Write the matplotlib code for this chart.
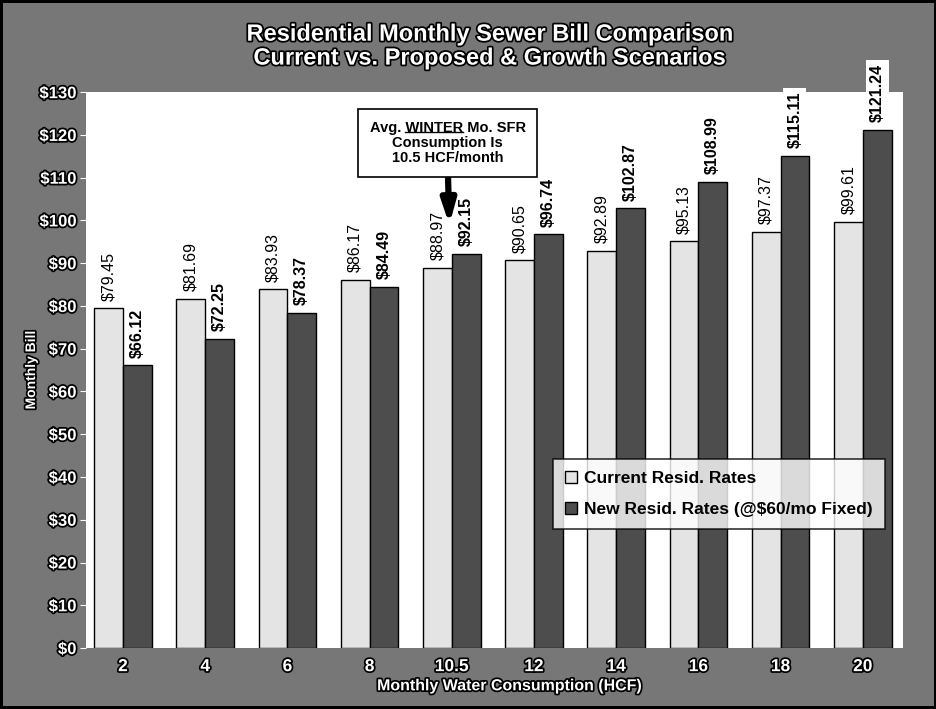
import matplotlib.pyplot as plt
import matplotlib.patheffects as pe
from matplotlib.lines import Line2D
from matplotlib.font_manager import FontProperties
import numpy as np

plt.rcParams['font.family'] = ['Liberation Sans', 'DejaVu Sans']

categories = ['2', '4', '6', '8', '10.5', '12', '14', '16', '18', '20']
current = [79.45, 81.69, 83.93, 86.17, 88.97, 90.65, 92.89, 95.13, 97.37, 99.61]
proposed = [66.12, 72.25, 78.37, 84.49, 92.15, 96.74, 102.87, 108.99, 115.11, 121.24]
y_ticks = list(range(0, 131, 10))

outline = [pe.withStroke(linewidth=2.5, foreground='black')]

fig = plt.figure(figsize=(9.37, 7.09), dpi=100, facecolor='#777777')
fig.patch.set_edgecolor('black')
fig.patch.set_linewidth(3)
ax = fig.add_axes([0.0918, 0.086, 0.872, 0.784])
ax.set_facecolor('white')

x = np.arange(len(categories))
w = 0.35
ax.bar(x - w / 2, current, w, color='#e4e4e4', edgecolor='black', linewidth=1,
       label='Current Resid. Rates')
ax.bar(x + w / 2, proposed, w, color='#4d4d4d', edgecolor='black', linewidth=1,
       label='New Resid. Rates (@$60/mo Fixed)')

for xi, v in zip(x, current):
    ax.annotate(f'${v:.2f}', (xi - w / 2, v), xytext=(0, 5.5), textcoords='offset points',
                rotation=90, ha='center', va='bottom', fontsize=11.5, color='black',
                annotation_clip=False)
for xi, v in zip(x, proposed):
    ax.annotate(f'${v:.2f}', (xi + w / 2, v), xytext=(0, 5.5), textcoords='offset points',
                rotation=90, ha='center', va='bottom', fontsize=11.5, fontweight='bold',
                color='black', annotation_clip=False,
                bbox=dict(boxstyle='square,pad=0.25', facecolor='white', edgecolor='none'))

ax.set_xlim(-0.45, 9.49)
ax.set_ylim(0, 130)
ax.set_yticks(y_ticks)
ax.set_yticklabels([f'${t}' for t in y_ticks])
ax.set_xticks(x)
ax.set_xticklabels(categories)
for lbl in ax.get_yticklabels() + ax.get_xticklabels():
    lbl.set_color('white')
    lbl.set_fontweight('bold')
    lbl.set_path_effects(outline)
for lbl in ax.get_yticklabels():
    lbl.set_fontsize(12)
for lbl in ax.get_xticklabels():
    lbl.set_fontsize(12.5)
ax.tick_params(axis='y', length=4, color='white', pad=3)
ax.tick_params(axis='x', length=0, pad=8)
for s in ax.spines.values():
    s.set_visible(False)

ax.set_xlabel('Monthly Water Consumption (HCF)', fontsize=11.5, fontweight='bold',
              color='white', path_effects=outline, labelpad=3)
ax.xaxis.label.set_x(0.519)
ax.set_ylabel('Monthly Bill', fontsize=10, fontweight='bold', color='white',
              path_effects=outline, labelpad=1)

fig.suptitle('Residential Monthly Sewer Bill Comparison\nCurrent vs. Proposed & Growth Scenarios',
             fontsize=17, fontweight='bold', color='white', y=0.968, x=0.523,
             linespacing=1.05, path_effects=outline)

line1 = 'Avg. WINTER Mo. SFR'
note = ax.annotate(line1 + '\nConsumption Is\n10.5 HCF/month',
                   xy=(3.97, 99), xytext=(3.95, 118.1), ha='center', va='center',
                   fontsize=10.5, fontweight='bold', linespacing=1.1,
                   bbox=dict(boxstyle='square,pad=0.8', facecolor='white', edgecolor='black',
                             linewidth=1.2),
                   arrowprops=dict(arrowstyle='-|>,head_width=0.4,head_length=1.3',
                                   color='black', linewidth=4.5, shrinkA=0, shrinkB=0,
                                   relpos=(0.5, 0.0)))

leg = ax.legend(loc='lower right', bbox_to_anchor=(0.988, 0.198), frameon=True, fancybox=False,
                edgecolor='black', prop={'weight': 'bold', 'size': 12.5}, handlelength=0.7,
                handleheight=0.7, handletextpad=0.4, labelspacing=0.9, borderpad=0.7)
leg.get_frame().set_linewidth(1.2)

# underline "WINTER" in the note
fig.canvas.draw()
r = fig.canvas.get_renderer()
fp = FontProperties(family=['Liberation Sans'], weight='bold', size=10.5)
bb = note.get_window_extent(r)
w_full = r.get_text_width_height_descent(line1, fp, ismath=False)[0]
w_pre = r.get_text_width_height_descent('Avg. ', fp, ismath=False)[0]
w_word, h_word, d_word = r.get_text_width_height_descent('WINTER', fp, ismath=False)
cx = (bb.x0 + bb.x1) / 2
x0 = cx - w_full / 2 + w_pre
y0 = bb.y1 - h_word - 1
inv = fig.transFigure.inverted()
(fx0, fy0), (fx1, _) = inv.transform([(x0, y0), (x0 + w_word, y0)])
fig.add_artist(Line2D([fx0, fx1], [fy0, fy0], color='black', linewidth=1))

fig.savefig('out.png', dpi=100, facecolor=fig.get_facecolor(), edgecolor=fig.get_edgecolor())
